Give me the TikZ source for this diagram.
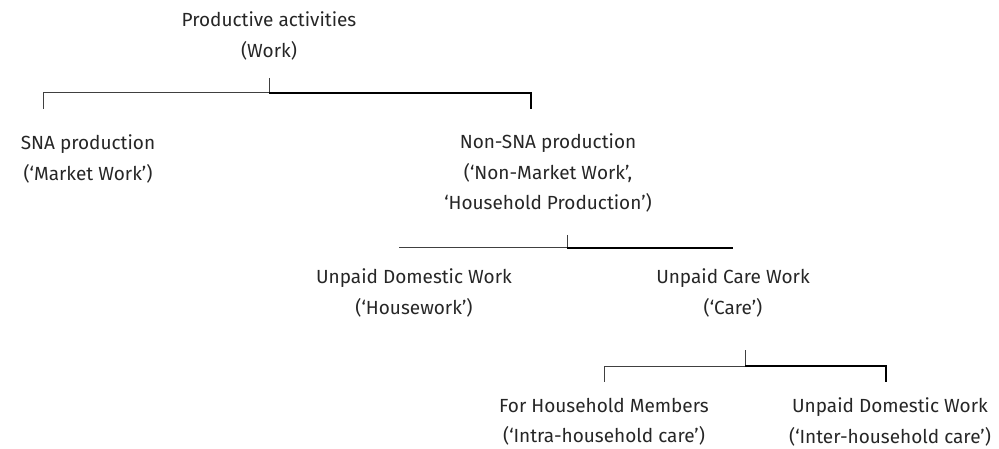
\documentclass[tikz,border=0pt]{standalone}
\usepackage{fontspec}
\setmainfont{Fira Sans}
\begin{document}
\begin{tikzpicture}[x=1pt,y=-1pt,
  label/.style={align=center,text=black!85,font=\fontsize{19}{30.5}\selectfont,inner sep=0pt},
  thinrule/.style={draw=black!75,line width=1pt},
  thickrule/.style={draw=black,line width=1.4pt}]
 \useasboundingbox (0,0) rectangle (999,449);
 % nodes
 \node[label] (root) at (269,36) {Productive activities\\(Work)};
 \node[label] (sna) at (88,159) {SNA production\\(`Market Work')};
 \node[label] (nonsna) at (548,173) {Non-SNA production\\(`Non-Market Work',\\`Household Production')};
 \node[label] (domestic) at (414,293) {Unpaid Domestic Work\\(`Housework')};
 \node[label] (care) at (733,293) {Unpaid Care Work\\(`Care')};
 \node[label] (intra) at (604,422) {For Household Members\\(`Intra-household care')};
 \node[label] (inter) at (890,422) {Unpaid Domestic Work\\(`Inter-household care')};
 % first bracket
 \coordinate (r1) at (269,78);
 \coordinate (b1) at (269,93);
 \coordinate (l1) at (43,109);
 \coordinate (e1) at (531,109);
 \draw[thinrule] (r1) -- (b1);
 \draw[thinrule] (b1) -| (l1);
 \draw[thickrule] (b1) -| (e1);
 % second bracket
 \coordinate (r2) at (567,235);
 \coordinate (b2) at (567,248);
 \coordinate (l2) at (399,248);
 \coordinate (e2) at (733,248);
 \draw[thinrule] (r2) -- (b2);
 \draw[thinrule] (b2) -- (l2);
 \draw[thickrule] (b2) -- (e2);
 % third bracket
 \coordinate (r3) at (745,350);
 \coordinate (b3) at (745,366);
 \coordinate (l3) at (604,382);
 \coordinate (e3) at (886,382);
 \draw[thinrule] (r3) -- (b3);
 \draw[thinrule] (b3) -| (l3);
 \draw[thickrule] (b3) -| (e3);
\end{tikzpicture}
\end{document}
